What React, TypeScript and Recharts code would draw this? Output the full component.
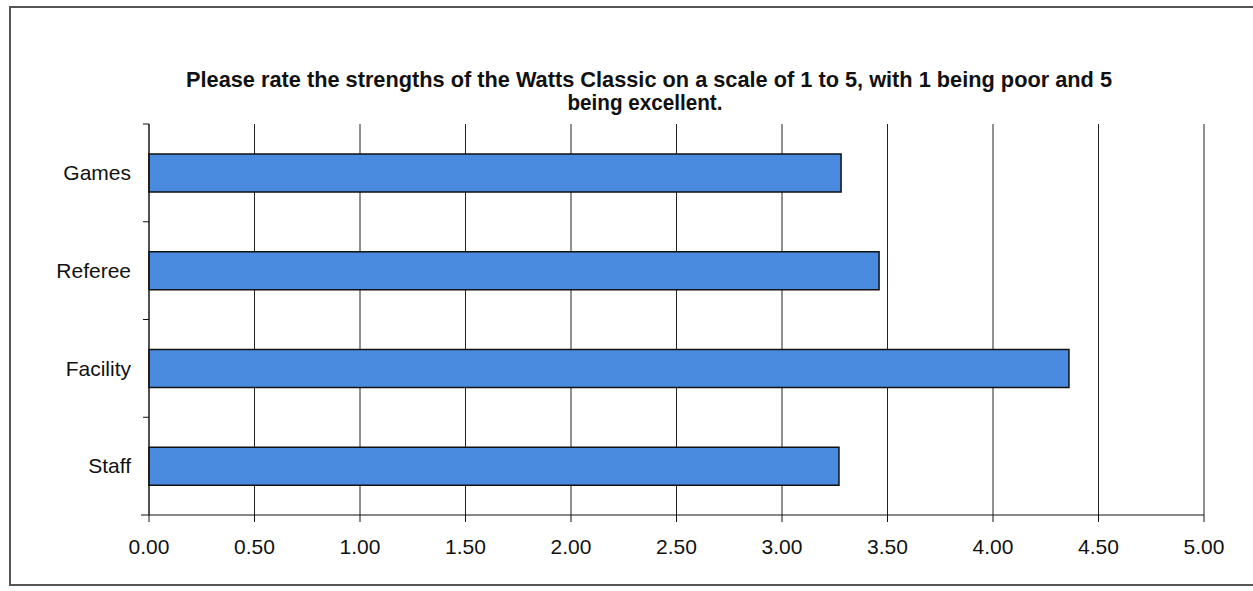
import React from "react";
import { BarChart, Bar, XAxis, YAxis, CartesianGrid } from "recharts";

const categories = ["Games", "Referee", "Facility", "Staff"];
const ratings = [3.28, 3.46, 4.36, 3.27];
const xTicks = [0, 0.5, 1, 1.5, 2, 2.5, 3, 3.5, 4, 4.5, 5];
const titleLine1 =
  "Please rate the strengths of the Watts Classic on a scale of 1 to 5, with 1 being poor and 5";
const titleLine2 = "being excellent.";

const data = categories.map((name, i) => ({ name, value: ratings[i] }));

const W = 1253;
const H = 591;
const PLOT_LEFT = 149;
const PLOT_TOP = 124;
const PLOT_BOTTOM = 515;
const PLOT_RIGHT = 1204;
const FONT = "'Liberation Sans', Arial, Helvetica, sans-serif";
const BAND = (PLOT_BOTTOM - PLOT_TOP) / categories.length;

const YTick = (props: any) => {
  const { x, y, payload, index } = props;
  return (
    <g>
      <line x1={PLOT_LEFT - 6} x2={PLOT_LEFT} y1={y - BAND / 2} y2={y - BAND / 2} stroke="#111" strokeWidth={1} />
      {index === categories.length - 1 && (
        <line x1={PLOT_LEFT - 8} x2={PLOT_LEFT} y1={y + BAND / 2} y2={y + BAND / 2} stroke="#111" strokeWidth={1} />
      )}
      <text x={x} y={y} dy="0.35em" textAnchor="end" fill="#111" fontSize={21} fontFamily={FONT}>
        {payload.value}
      </text>
    </g>
  );
};

export default function App() {
  return (
    <div
      style={{
        position: "absolute",
        left: 0,
        top: 0,
        width: W,
        height: H,
        overflow: "hidden",
        background: "#fff",
      }}
    >
      <div
        style={{
          position: "absolute",
          left: 9,
          top: 6,
          width: 1270,
          height: 580,
          border: "2px solid #555",
          boxSizing: "border-box",
        }}
      />
      <div style={{ position: "absolute", left: 0, top: 0 }}>
        <BarChart
          width={W}
          height={H}
          data={data}
          layout="vertical"
          margin={{ top: PLOT_TOP, right: W - PLOT_RIGHT, bottom: 0, left: 0 }}
          barCategoryGap={0}
        >
          <CartesianGrid horizontal={false} vertical={true} stroke="#222" strokeWidth={1} />
          <XAxis
            type="number"
            domain={[0, 5]}
            ticks={xTicks}
            interval={0}
            tickFormatter={(v: number) => v.toFixed(2)}
            height={H - PLOT_BOTTOM}
            axisLine={{ stroke: "#111", strokeWidth: 1 }}
            tickLine={{ stroke: "#111", strokeWidth: 1 }}
            tickSize={7}
            tickMargin={17}
            tick={{ fill: "#111", fontSize: 21, fontFamily: FONT }}
          />
          <YAxis
            type="category"
            dataKey="name"
            width={PLOT_LEFT}
            axisLine={{ stroke: "#111", strokeWidth: 1 }}
            tickLine={false}
            tickSize={6}
            tickMargin={12}
            tick={<YTick />}
          />
          <Bar dataKey="value" fill="#4a8be0" stroke="#111" strokeWidth={1.5} barSize={38} isAnimationActive={false} />
        </BarChart>
      </div>
      <svg
        width={W}
        height={H}
        style={{ position: "absolute", left: 0, top: 0, pointerEvents: "none" }}
      >
        <text
          x={649}
          y={87}
          textAnchor="middle"
          fontFamily={FONT}
          fontWeight="bold"
          fontSize={22}
          fill="#111"
          textLength={926}
          lengthAdjust="spacingAndGlyphs"
        >
          {titleLine1}
        </text>
        <text
          x={645}
          y={110}
          textAnchor="middle"
          fontFamily={FONT}
          fontWeight="bold"
          fontSize={22}
          fill="#111"
          textLength={155}
          lengthAdjust="spacingAndGlyphs"
        >
          {titleLine2}
        </text>
      </svg>
    </div>
  );
}
